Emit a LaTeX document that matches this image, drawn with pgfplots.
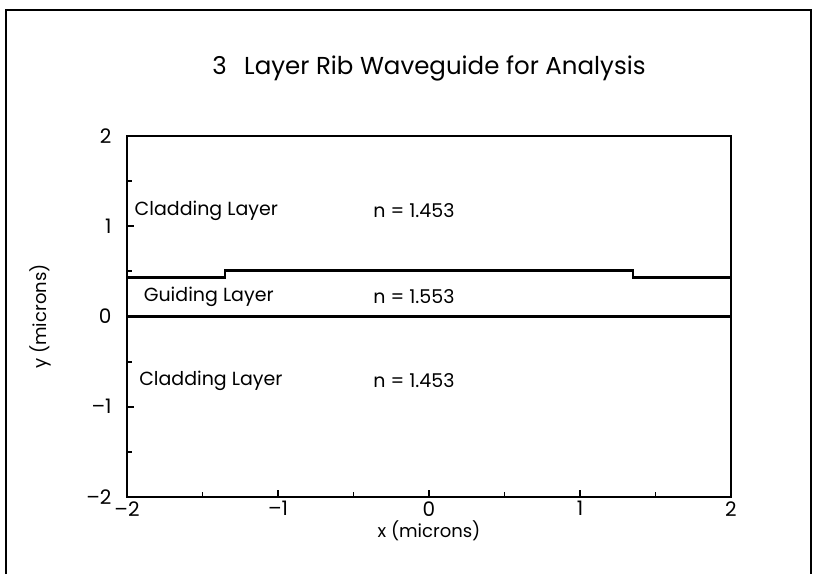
\documentclass[border=0pt]{standalone}
\usepackage{pgfplots}
\pgfplotsset{compat=1.18}
\usepackage{fontspec}
\setmainfont{Poppins}
\begin{document}
\begin{tikzpicture}
  % page box: 815 x 574 with the axis origin at the lower-left axis corner
  \useasboundingbox (-127pt,-77pt) rectangle (688pt,497pt);
  \draw[line width=1.6pt] (-121pt,-77pt) -- (-121pt,487pt) -- (684pt,487pt) -- (684pt,-77pt);
  \begin{axis}[
    at={(0pt,0pt)}, anchor=south west,
    scale only axis,
    width=604pt, height=361pt,
    xmin=-2, xmax=2, ymin=-2, ymax=2,
    xtick={-2,-1,0,1,2}, ytick={-2,-1,0,1,2},
    xticklabels={–2,–1,0,1,2},
    yticklabels={–2,–1,0,1,2},
    minor tick num=1,
    tick pos=left,
    tick align=inside,
    major tick length=7pt,
    minor tick length=5pt,
    axis line style={line width=2.8pt},
    every tick/.style={line width=1.8pt, black},
    tick label style={font=\fontsize{20}{24}\selectfont},
    xticklabel style={yshift=-1pt},
    yticklabel style={xshift=-12pt},
    clip=false,
  ]
    % substrate / guide boundary
    \addplot[black, line width=2.4pt] coordinates {(-2,0) (2,0)};
    % rib profile (top of guiding layer)
    \addplot[black, line width=2.4pt] coordinates {
      (-2,0.43) (-1.35,0.43) (-1.35,0.51) (1.35,0.51) (1.35,0.43) (2,0.43)};

    \node[anchor=center, font=\fontsize{24.5}{28}\selectfont] at (rel axis cs:0.5,1.188)
      {3\;\, Layer Rib Waveguide for Analysis};
    \node[anchor=center, font=\fontsize{18}{21}\selectfont] at (rel axis cs:0.5,-0.094)
      {x (microns)};
    \node[anchor=center, rotate=90, font=\fontsize{18}{21}\selectfont] at (rel axis cs:-0.144,0.5)
      {y (microns)};

    \begin{scope}[every node/.style={anchor=west, font=\fontsize{19}{22}\selectfont, inner sep=0pt}]
      \node at (axis cs:-1.95,1.17) {Cladding Layer};
      \node at (axis cs:-0.37,1.17) {n = 1.453};
      \node at (axis cs:-1.89,0.22) {Guiding Layer};
      \node at (axis cs:-0.37,0.22) {n = 1.553};
      \node at (axis cs:-1.92,-0.71) {Cladding Layer};
      \node at (axis cs:-0.37,-0.71) {n = 1.453};
    \end{scope}
  \end{axis}
\end{tikzpicture}
\end{document}
